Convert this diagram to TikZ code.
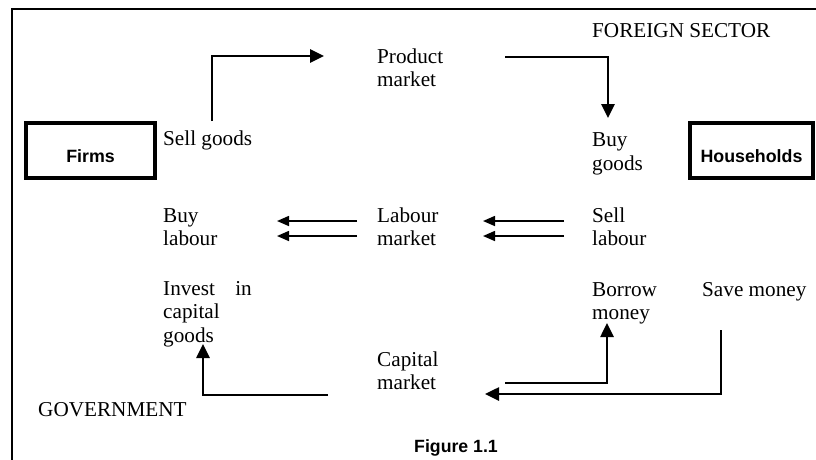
\documentclass[tikz,border=0pt]{standalone}
\usepackage{fontspec}
\setmainfont{Liberation Serif}
\newfontfamily\labelsans{Liberation Sans}
\usetikzlibrary{arrows.meta}

\begin{document}
\begin{tikzpicture}[x=1pt,y=-1pt,
	txt/.style={anchor=base west,inner sep=0pt,align=left,font=\fontsize{21.2}{23.5}\selectfont},
	sector/.style={draw,line width=3.4pt,minimum height=55pt,inner sep=0pt,font=\labelsans\bfseries\fontsize{17.8}{20}\selectfont},
	flow/.style={line width=2.6pt,-{Triangle[length=14pt,width=13pt]}},
	pay/.style={line width=1.6pt,-{Triangle[length=12pt,width=10pt]}}]
\useasboundingbox (0,0) rectangle (816,459);
\clip (0,0) rectangle (816,459);
\draw[line width=2pt] (12,470) |- (830,9);
% base west of a multi-line node is the baseline of its last line
\path
	(90.5,150.5) node[sector,minimum width=129pt] (firms) {\raisebox{-6pt}[\height][0pt]{Firms}}
	(751.5,150.5) node[sector,minimum width=123pt] (households) {\raisebox{-6pt}[\height][0pt]{Households}}
	(163,145) node[txt] (sell) {Sell goods}
	(377,86.5) node[txt] (product) {Product\\market}
	(592,37) node[txt] (foreign) {FOREIGN SECTOR}
	(592,170) node[txt] (buygoods) {Buy\\goods}
	(163,245.5) node[txt] (buylab) {Buy\\labour}
	(377,245.5) node[txt] (labmkt) {Labour\\market}
	(592,245.5) node[txt] (selllab) {Sell\\labour}
	(163,342) node[txt] (invest) {Invest\hspace{15pt} in\\capital\\goods}
	(592,319.5) node[txt] (borrow) {Borrow\\money}
	(702,296) node[txt] (save) {Save money}
	(377,389.5) node[txt] (capmkt) {Capital\\market}
	(38,416) node[txt] (govt) {GOVERNMENT}
	(456,448) node[font=\labelsans\bfseries\fontsize{17.7}{20}\selectfont] (fig) {Figure 1.1};
% goods flow
\coordinate (sellup) at (212,121);
\coordinate (prodin) at (324,56);
\coordinate (prodout) at (505,57);
\coordinate (buyin) at (608,118);
\draw[flow] (sellup) |- (prodin);
\draw[flow] (prodout) -| (buyin);
% labour
\coordinate (lab1) at (357,221);
\coordinate (lab2) at (357,236);
\coordinate (buy1) at (277,221);
\coordinate (buy2) at (277,236);
\coordinate (hh1) at (564,221);
\coordinate (hh2) at (564,236);
\coordinate (mk1) at (483,221);
\coordinate (mk2) at (483,236);
\draw[pay] (lab1) -- (buy1);
\draw[pay] (lab2) -- (buy2);
\draw[pay] (hh1) -- (mk1);
\draw[pay] (hh2) -- (mk2);
% capital
\coordinate (capout) at (328,395);
\coordinate (investin) at (203,344);
\coordinate (capright) at (505,383);
\coordinate (borrowin) at (607,323);
\coordinate (savedown) at (721,330);
\coordinate (capin) at (485,394);
\draw[flow] (capout) -| (investin);
\draw[flow] (capright) -| (borrowin);
\draw[flow] (savedown) |- (capin);
\end{tikzpicture}
\end{document}
